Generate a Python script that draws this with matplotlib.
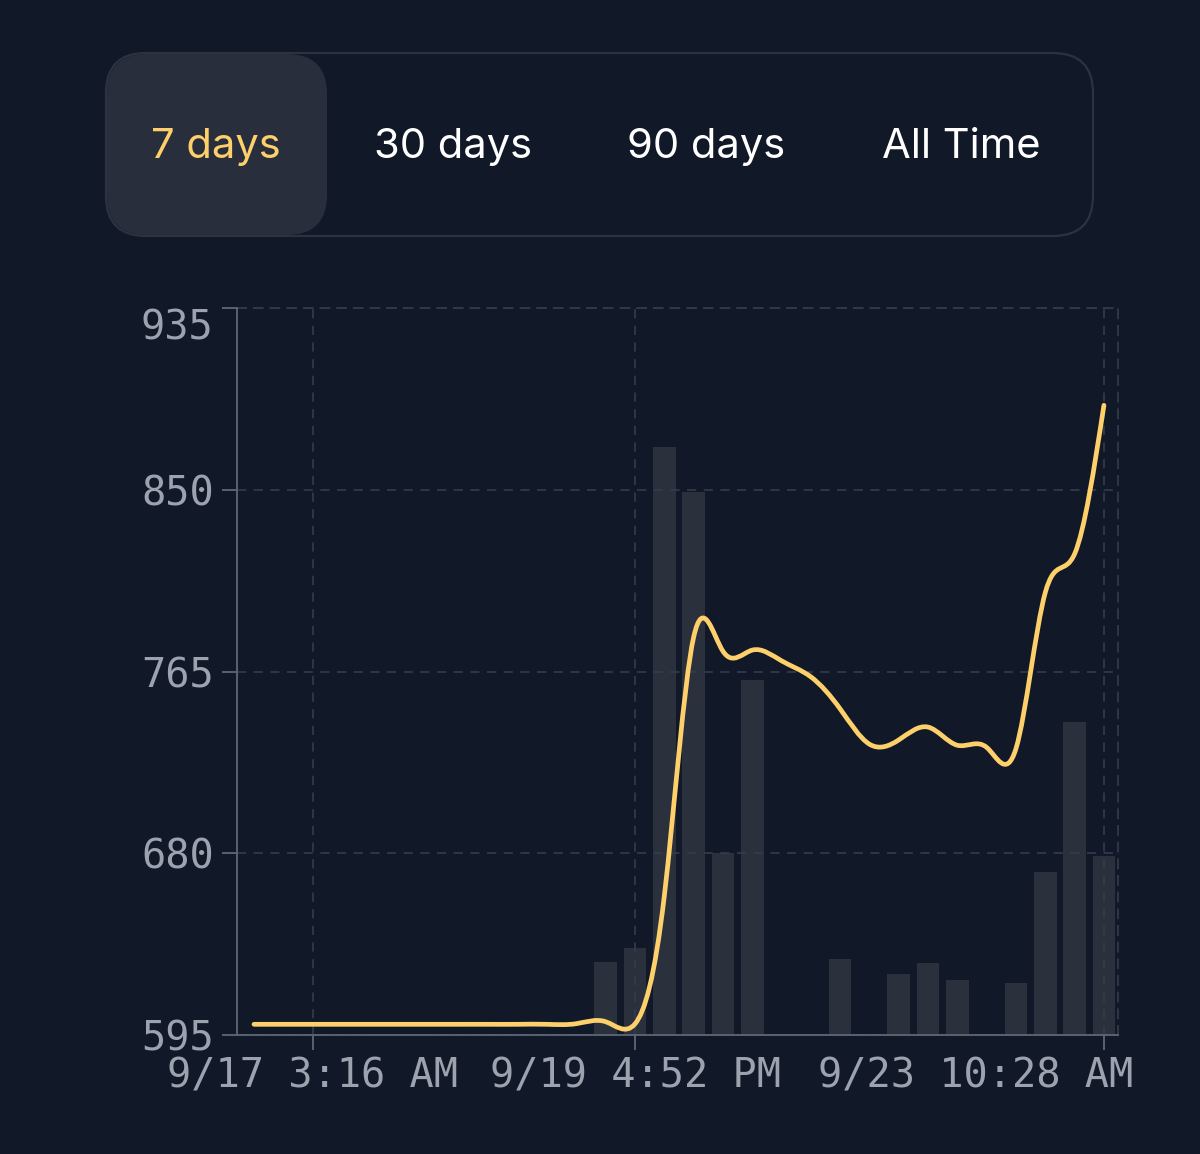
import matplotlib
matplotlib.use("Agg")
import matplotlib.pyplot as plt
import matplotlib.dates as mdates
from matplotlib.path import Path
from matplotlib.patches import PathPatch, FancyBboxPatch
from matplotlib.transforms import ScaledTranslation
import numpy as np
import pandas as pd


# DATA

TABS = ["7 days", "30 days", "90 days", "All Time"]
TAB_X = [216, 453, 706, 961]          # tab text centres, pixels

# 30 evenly spaced buckets over the 7 days
times = pd.date_range("2024-09-16 16:04", periods=30, freq="336min")

price = [600.0, 600.0, 600.0, 600.0, 600.0, 600.0, 600.0, 600.0, 600.0, 600.0,
         600.0, 600.3, 601.2, 600.2, 660.0, 781.0, 774.5, 775.0, 770.0, 762.5,
         747.5, 731.0, 733.0, 739.0, 730.5, 729.5, 729.0, 802.0, 820.0, 889.5]

volume = [0, 0, 0, 0, 0, 0, 0, 0, 0, 0,
          0, 0, 34.0, 40.6, 275.0, 254.0, 85.0, 166.0, 0, 0,
          35.4, 0, 28.7, 33.8, 25.6, 0, 24.5, 76.0, 146.3, 83.8]

Y_MIN, Y_MAX = 595, 935
Y_TICKS = [595, 680, 765, 850, 935]
X_TICKS = pd.to_datetime(["2024-09-17 03:16", "2024-09-19 16:52", "2024-09-23 10:28"])
X_LABELS = ["9/17 3:16 AM", "9/19 4:52 PM", "9/23 10:28 AM"]


# COLOURS

BG = "#111827"
TAB_SEL = "#282e3b"
TAB_BORDER = "#2c3340"
YELLOW = "#fdd06b"
BAR = "#2a303c"
GRID = "#343c4b"
AXIS = "#5b6372"
LABEL = "#9ca3af"


# NATURAL CUBIC CONTROL POINTS (SAME AS D3 curveNatural)

def control_points(x):
    x = np.asarray(x, dtype=float)
    n = len(x) - 1
    a = np.zeros(n)
    b = np.zeros(n)
    r = np.zeros(n)
    a[0], b[0], r[0] = 0, 2, x[0] + 2 * x[1]
    for i in range(1, n - 1):
        a[i], b[i], r[i] = 1, 4, 4 * x[i] + 2 * x[i + 1]
    a[n - 1], b[n - 1], r[n - 1] = 2, 7, 8 * x[n - 1] + x[n]
    for i in range(1, n):
        m = a[i] / b[i - 1]
        b[i] -= m
        r[i] -= m * r[i - 1]
    a[n - 1] = r[n - 1] / b[n - 1]
    for i in range(n - 2, -1, -1):
        a[i] = (r[i] - a[i + 1]) / b[i]
    b[n - 1] = (x[n] + a[n - 1]) / 2
    for i in range(n - 1):
        b[i] = 2 * x[i + 1] - a[i + 1]
    return a, b


def natural_path(xs, ys):
    ax1, ax2 = control_points(xs)
    ay1, ay2 = control_points(ys)
    verts = [(xs[0], ys[0])]
    codes = [Path.MOVETO]
    for i in range(len(xs) - 1):
        verts += [(ax1[i], ay1[i]), (ax2[i], ay2[i]), (xs[i + 1], ys[i + 1])]
        codes += [Path.CURVE4] * 3
    return Path(verts, codes)


# FIGURE

W, H = 1200, 1154
fig = plt.figure(figsize=(W / 100, H / 100), dpi=100, facecolor=BG)


# TAB BAR, DRAWN IN PIXEL COORDINATES

bg = fig.add_axes([0, 0, 1, 1], zorder=-1)
bg.set_xlim(0, W)
bg.set_ylim(H, 0)
bg.axis("off")

bg.add_patch(FancyBboxPatch((106, 53), 987, 183,
                            boxstyle="round,pad=0,rounding_size=40",
                            fc="none", ec=TAB_BORDER, lw=1.6))
bg.add_patch(FancyBboxPatch((107, 54), 220, 181,
                            boxstyle="round,pad=0,rounding_size=40",
                            fc=TAB_SEL, ec="none"))

for i, name in enumerate(TABS):
    bg.text(TAB_X[i], 158, name, ha="center", va="baseline",
            fontsize=30, family="Inter",
            color=YELLOW if i == 0 else "white")


# CHART

ax = fig.add_axes([237 / W, 1 - 1035 / H, (1118 - 237) / W, (1035 - 308) / H])
ax.set_facecolor(BG)

tnum = mdates.date2num(times)
step = tnum[1] - tnum[0]

ax.bar(tnum, volume, width=step * 0.77, bottom=Y_MIN, color=BAR,
       linewidth=0, zorder=1)

line = PathPatch(natural_path(tnum, price), fc="none", ec=YELLOW,
                 lw=3.4, capstyle="round", joinstyle="round", zorder=3)
ax.add_patch(line)

ax.set_xlim(tnum[0] - step * 0.58, tnum[-1] + step * 0.48)
ax.set_ylim(Y_MIN, Y_MAX)

ax.set_yticks(Y_TICKS)
ax.set_xticks(mdates.date2num(X_TICKS))
ax.set_xticklabels(X_LABELS)

ax.set_axisbelow(False)
ax.grid(True, color=GRID, linestyle=(0, (5.5, 4.5)), linewidth=1.2)

for side in ["top", "right"]:
    ax.spines[side].set_color(GRID)
    ax.spines[side].set_linestyle((0, (5.5, 4.5)))
    ax.spines[side].set_linewidth(1.2)
for side in ["left", "bottom"]:
    ax.spines[side].set_color(AXIS)
    ax.spines[side].set_linewidth(1.4)
    ax.spines[side].set_zorder(5)

ax.tick_params(axis="both", length=10.8, width=1.4, color=AXIS,
               labelcolor=LABEL, labelsize=29)
ax.tick_params(axis="y", pad=6)
ax.tick_params(axis="x", pad=5)
for lab in ax.get_xticklabels() + ax.get_yticklabels():
    lab.set_family("DejaVu Sans Mono")

# EDGE LABELS ARE PUSHED INSIDE LIKE IN THE APP
top_lab = ax.get_yticklabels()[-1]
top_lab.set_va("top")
last_lab = ax.get_xticklabels()[-1]
last_lab.set_ha("right")
last_lab.set_transform(last_lab.get_transform() + ScaledTranslation(0.29, 0, fig.dpi_scale_trans))

fig.savefig("out.png", dpi=100, facecolor=BG)
